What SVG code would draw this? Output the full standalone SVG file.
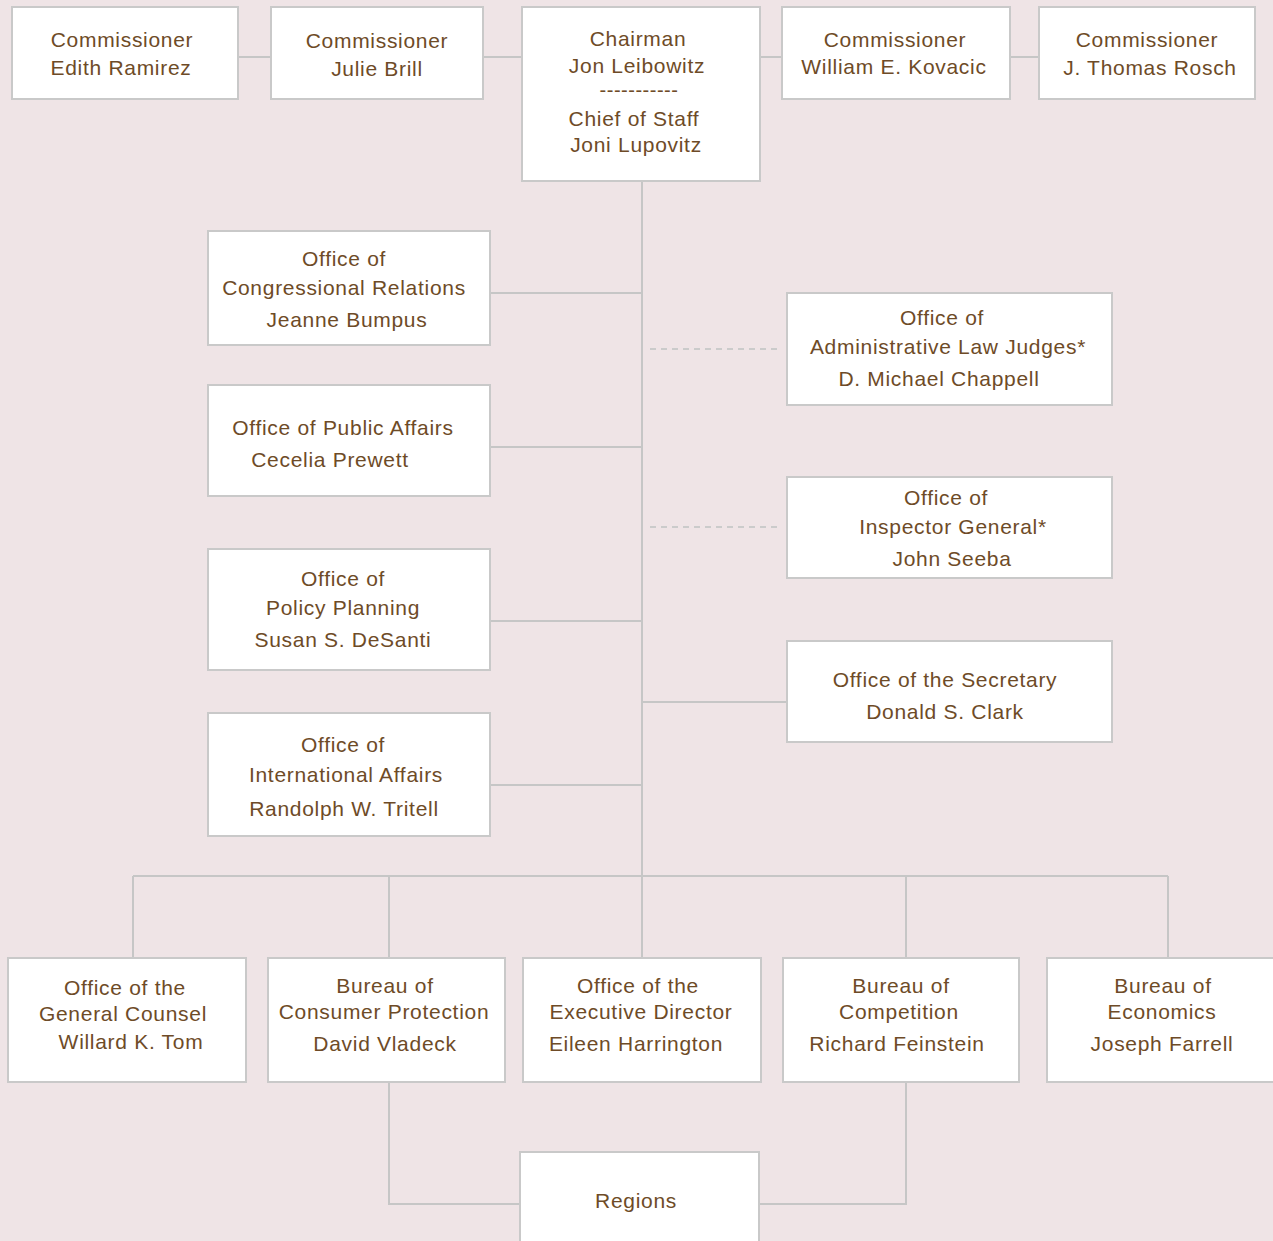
<svg xmlns="http://www.w3.org/2000/svg" width="1273" height="1241" viewBox="0 0 1273 1241">
<style>
.bg{fill:#EFE4E6}
.box{fill:#FFFFFF;stroke:#C9C9C9;stroke-width:2}
.ln{fill:none;stroke:#C6C6C6;stroke-width:2}
.dash{fill:none;stroke:#CBCBCB;stroke-width:2;stroke-dasharray:6 5}
text{font-family:"Liberation Sans",Arial,sans-serif;font-size:21px;fill:#6E4B27;text-anchor:middle;letter-spacing:0.7px}
</style>
<rect class="bg" x="0" y="0" width="1273" height="1241"/>
<g id="connectors">
<path class="ln" d="M238 57H1039"/>
<path class="ln" d="M642 181V876"/>
<path class="ln" d="M490 293H642M490 447H642M490 621H642M490 785H642M642 702H787"/>
<path class="dash" d="M650 349H778M650 527H778"/>
<path class="ln" d="M133 876H1168M133 876V958M389 876V958M642 876V958M906 876V958M1168 876V958"/>
<path class="ln" d="M389 1082V1204H520M906 1082V1204H759"/>
</g>
<g id="n-ramirez"><rect class="box" x="12" y="7" width="226" height="92"/><text x="122" y="47">Commissioner</text><text x="121" y="75">Edith Ramirez</text></g>
<g id="n-brill"><rect class="box" x="271" y="7" width="212" height="92"/><text x="377" y="48">Commissioner</text><text x="377" y="76">Julie Brill</text></g>
<g id="n-chairman"><rect class="box" x="522" y="7" width="238" height="174"/><text x="638" y="46">Chairman</text><text x="637" y="73">Jon Leibowitz</text><text x="639" y="97" style="font-size:20px;letter-spacing:0.5px">-----------</text><text x="634" y="126">Chief of Staff</text><text x="636" y="152">Joni Lupovitz</text></g>
<g id="n-kovacic"><rect class="box" x="782" y="7" width="228" height="92"/><text x="895" y="47">Commissioner</text><text x="894" y="74">William E. Kovacic</text></g>
<g id="n-rosch"><rect class="box" x="1039" y="7" width="216" height="92"/><text x="1147" y="47">Commissioner</text><text x="1150" y="75">J. Thomas Rosch</text></g>
<g id="n-congress"><rect class="box" x="208" y="231" width="282" height="114"/><text x="344" y="266">Office of</text><text x="344" y="295">Congressional Relations</text><text x="347" y="327">Jeanne Bumpus</text></g>
<g id="n-public"><rect class="box" x="208" y="385" width="282" height="111"/><text x="343" y="435">Office of Public Affairs</text><text x="330" y="467">Cecelia Prewett</text></g>
<g id="n-policy"><rect class="box" x="208" y="549" width="282" height="121"/><text x="343" y="586">Office of</text><text x="343" y="615">Policy Planning</text><text x="343" y="647">Susan S. DeSanti</text></g>
<g id="n-intl"><rect class="box" x="208" y="713" width="282" height="123"/><text x="343" y="752">Office of</text><text x="346" y="782">International Affairs</text><text x="344" y="816">Randolph W. Tritell</text></g>
<g id="n-alj"><rect class="box" x="787" y="293" width="325" height="112"/><text x="942" y="325">Office of</text><text x="948" y="354">Administrative Law Judges*</text><text x="939" y="386">D. Michael Chappell</text></g>
<g id="n-ig"><rect class="box" x="787" y="477" width="325" height="101"/><text x="946" y="505">Office of</text><text x="953" y="534">Inspector General*</text><text x="952" y="566">John Seeba</text></g>
<g id="n-secretary"><rect class="box" x="787" y="641" width="325" height="101"/><text x="945" y="687">Office of the Secretary</text><text x="945" y="719">Donald S. Clark</text></g>
<g id="n-gc"><rect class="box" x="8" y="958" width="238" height="124"/><text x="125" y="995">Office of the</text><text x="123" y="1021">General Counsel</text><text x="131" y="1049">Willard K. Tom</text></g>
<g id="n-bcp"><rect class="box" x="268" y="958" width="237" height="124"/><text x="385" y="993">Bureau of</text><text x="384" y="1019">Consumer Protection</text><text x="385" y="1051">David Vladeck</text></g>
<g id="n-ed"><rect class="box" x="523" y="958" width="238" height="124"/><text x="638" y="993">Office of the</text><text x="641" y="1019">Executive Director</text><text x="636" y="1051">Eileen Harrington</text></g>
<g id="n-bc"><rect class="box" x="783" y="958" width="236" height="124"/><text x="901" y="993">Bureau of</text><text x="899" y="1019">Competition</text><text x="897" y="1051">Richard Feinstein</text></g>
<g id="n-be"><rect class="box" x="1047" y="958" width="236" height="124"/><text x="1163" y="993">Bureau of</text><text x="1162" y="1019">Economics</text><text x="1162" y="1051">Joseph Farrell</text></g>
<g id="n-regions"><rect class="box" x="520" y="1152" width="239" height="100"/><text x="636" y="1208">Regions</text></g>
</svg>
